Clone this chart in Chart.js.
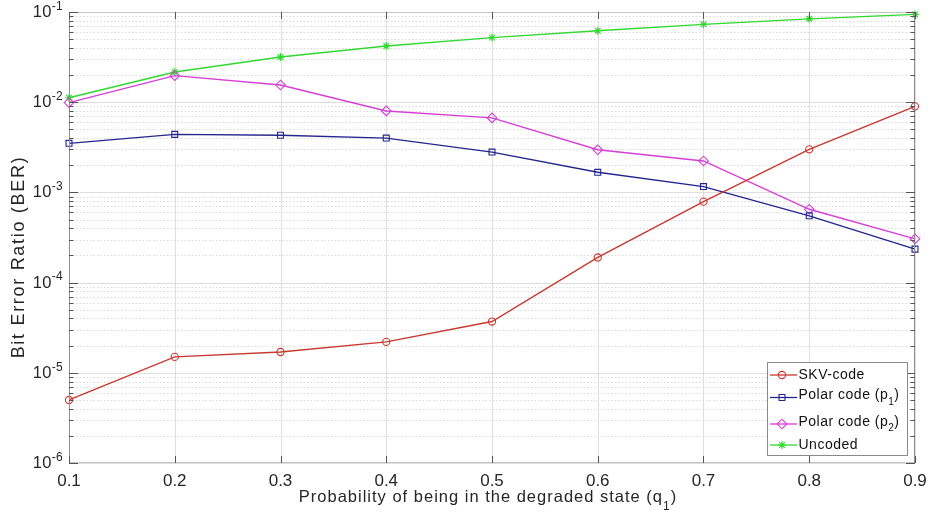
<!DOCTYPE html>
<html>
<head>
<meta charset="utf-8">
<title>BER vs degraded state probability</title>
<script src="https://cdn.jsdelivr.net/npm/chart.js@4/dist/chart.umd.min.js"></script>
<style>
    html, body { margin: 0; padding: 0; background: #fff; }
    #berChart { display: block; }
</style>
</head>
<body>
<canvas id="berChart" width="931" height="523"></canvas>
<script>
const qValues = [0.1, 0.2, 0.3, 0.4, 0.5, 0.6, 0.7, 0.8, 0.9];

const skvCode  = [5.0e-6, 1.5e-5, 1.7e-5, 2.2e-5, 3.7e-5, 1.9e-4, 7.9e-4, 3.0e-3, 9.0e-3];
const polarP1  = [3.5e-3, 4.4e-3, 4.3e-3, 4.0e-3, 2.8e-3, 1.67e-3, 1.16e-3, 5.5e-4, 2.35e-4];
const polarP2  = [9.9e-3, 1.97e-2, 1.55e-2, 8.0e-3, 6.7e-3, 2.97e-3, 2.23e-3, 6.5e-4, 3.05e-4];
const uncoded  = [1.12e-2, 2.16e-2, 3.17e-2, 4.2e-2, 5.2e-2, 6.2e-2, 7.3e-2, 8.4e-2, 9.4e-2];

const seriesNames = ["SKV-code", "Polar code (p_1)", "Polar code (p_2)", "Uncoded"];
const yDecades = [1e-6, 1e-5, 1e-4, 1e-3, 1e-2, 1e-1];
const yTickLabels = ["10^{-6}", "10^{-5}", "10^{-4}", "10^{-3}", "10^{-2}", "10^{-1}"];
const xTitle = "Probability of being in the degraded state (q_1)";
const yTitle = "Bit Error Ratio (BER)";

const FONT = '"Liberation Sans", Arial, Helvetica, sans-serif';
const TEXT = "#262626";

function font(size) {
    return size + "px " + FONT;
}

// splits "abc_1" / "10^{-5}" into plain, sub and sup pieces
function parseRich(str) {
    const parts = [];
    let i = 0, buf = "";
    while (i < str.length) {
        const c = str[i];
        if (c === "_" || c === "^") {
            if (buf) { parts.push({ t: buf, k: "n" }); buf = ""; }
            let s;
            if (str[i + 1] === "{") {
                const end = str.indexOf("}", i);
                s = str.slice(i + 2, end);
                i = end + 1;
            } else {
                s = str[i + 1];
                i += 2;
            }
            parts.push({ t: s, k: c === "_" ? "sub" : "sup" });
        } else {
            buf += c;
            i++;
        }
    }
    if (buf) parts.push({ t: buf, k: "n" });
    return parts;
}

// text with sub/superscripts; spacing = extra px between letters
function drawRich(ctx, str, x, y, size, align, subShift, spacing) {
    const parts = parseRich(str);
    const small = Math.round(size * 0.72);
    const sp = spacing || 0;
    ctx.letterSpacing = sp + "px";
    let total = 0;
    parts.forEach(p => {
        ctx.font = font(p.k === "n" ? size : small);
        p.w = ctx.measureText(p.t).width;
        total += p.w;
    });
    let cx = x;
    if (align === "right") cx = x - total;
    if (align === "center") cx = x - total / 2;
    ctx.textAlign = "left";
    ctx.textBaseline = "middle";
    parts.forEach(p => {
        let dy = 0;
        if (p.k === "sub") dy = size * subShift;
        if (p.k === "sup") dy = -size * 0.36;
        ctx.font = font(p.k === "n" ? size : small);
        ctx.fillText(p.t, cx, y + dy);
        cx += p.w;
    });
    ctx.letterSpacing = "0px";
}

const seriesStyles = [
    { color: "#c8382f", point: "circle", radius: 3.6 },
    { color: "#25258f", point: "rect", radius: 4.2 },
    { color: "#d63ed6", point: "rectRot", radius: 4.8 },
    { color: "#30d830", point: "star", radius: 4 }
];

const seriesData = [skvCode, polarP1, polarP2, uncoded];

const datasets = seriesData.map((vals, i) => ({
    label: seriesNames[i],
    data: vals.map((v, j) => ({ x: qValues[j], y: v })),
    borderColor: seriesStyles[i].color,
    backgroundColor: "rgba(0,0,0,0)",
    borderWidth: 1.4,
    pointStyle: seriesStyles[i].point,
    pointRadius: seriesStyles[i].radius,
    pointBorderWidth: 1.1,
    pointBorderColor: seriesStyles[i].color,
    pointBackgroundColor: "rgba(0,0,0,0)",
    tension: 0,
    clip: false
}));

// grid, inward ticks, box, labels and legend drawn in the MATLAB way
const matlabAxes = {
    id: "matlabAxes",
    beforeDatasetsDraw(chart) {
        const { ctx, chartArea: a, scales: { x, y } } = chart;
        ctx.save();
        ctx.lineWidth = 1;

        // minor y grid (dotted)
        ctx.strokeStyle = "#d9d9d9";
        ctx.setLineDash([1.5, 2]);
        yDecades.slice(0, -1).forEach(d => {
            for (let k = 2; k <= 9; k++) {
                const py = Math.round(y.getPixelForValue(k * d)) + 0.5;
                ctx.beginPath();
                ctx.moveTo(a.left, py);
                ctx.lineTo(a.right, py);
                ctx.stroke();
            }
        });
        ctx.setLineDash([]);

        // major y grid
        ctx.strokeStyle = "#dedede";
        yDecades.forEach(d => {
            const py = Math.round(y.getPixelForValue(d)) + 0.5;
            ctx.beginPath();
            ctx.moveTo(a.left, py);
            ctx.lineTo(a.right, py);
            ctx.stroke();
        });

        // x grid
        qValues.forEach(q => {
            const px = Math.round(x.getPixelForValue(q)) + 0.5;
            ctx.beginPath();
            ctx.moveTo(px, a.top);
            ctx.lineTo(px, a.bottom);
            ctx.stroke();
        });
        ctx.restore();
    },
    afterDraw(chart) {
        const { ctx, chartArea: a, scales: { x, y } } = chart;
        ctx.save();
        ctx.lineWidth = 1;

        // box
        ctx.strokeStyle = "#c4c4c4";
        ctx.beginPath();
        ctx.moveTo(a.left, a.top + 0.5);
        ctx.lineTo(a.right, a.top + 0.5);
        ctx.moveTo(a.left, a.bottom - 0.5);
        ctx.lineTo(a.right, a.bottom - 0.5);
        ctx.stroke();
        ctx.strokeStyle = "#8f8f8f";
        ctx.beginPath();
        ctx.moveTo(Math.round(a.left) + 0.5, a.top);
        ctx.lineTo(Math.round(a.left) + 0.5, a.bottom);
        ctx.moveTo(Math.round(a.right) - 0.5, a.top);
        ctx.lineTo(Math.round(a.right) - 0.5, a.bottom);
        ctx.stroke();

        // inward ticks
        ctx.strokeStyle = "#555555";
        ctx.beginPath();
        qValues.forEach(q => {
            const px = Math.round(x.getPixelForValue(q)) + 0.5;
            ctx.moveTo(px, a.bottom);
            ctx.lineTo(px, a.bottom - 7);
            ctx.moveTo(px, a.top);
            ctx.lineTo(px, a.top + 7);
        });
        yDecades.forEach((d, i) => {
            const py = Math.round(y.getPixelForValue(d)) + 0.5;
            ctx.moveTo(a.left, py);
            ctx.lineTo(a.left + 9, py);
            ctx.moveTo(a.right, py);
            ctx.lineTo(a.right - 9, py);
            if (i < yDecades.length - 1) {
                for (let k = 2; k <= 9; k++) {
                    const pm = Math.round(y.getPixelForValue(k * d)) + 0.5;
                    ctx.moveTo(a.left, pm);
                    ctx.lineTo(a.left + 4.5, pm);
                    ctx.moveTo(a.right, pm);
                    ctx.lineTo(a.right - 4.5, pm);
                }
            }
        });
        ctx.stroke();

        // y tick labels 10^n
        ctx.fillStyle = TEXT;
        yDecades.forEach((d, i) => {
            drawRich(ctx, yTickLabels[i], a.left - 6, y.getPixelForValue(d) + 0.5, 16.5, "right", 0.4, 0.3);
        });

        // axis titles
        drawRich(ctx, xTitle, 488, 497, 16.5, "center", 0.58, 1.0);
        ctx.save();
        ctx.translate(19, 257);
        ctx.rotate(-Math.PI / 2);
        drawRich(ctx, yTitle, 0, 0, 18, "center", 0.4, 1.7);
        ctx.restore();

        // legend
        const box = { l: 767.5, t: 362.5, r: 907.5, b: 455.5 };
        ctx.fillStyle = "#ffffff";
        ctx.fillRect(box.l, box.t, box.r - box.l, box.b - box.t);
        ctx.strokeStyle = "#8a8a8a";
        ctx.strokeRect(box.l, box.t, box.r - box.l, box.b - box.t);
        const rowsY = [375, 397.5, 424, 445];
        chart.data.datasets.forEach((ds, i) => {
            const ly = rowsY[i];
            ctx.strokeStyle = ds.borderColor;
            ctx.lineWidth = 1.3;
            ctx.beginPath();
            ctx.moveTo(770, ly);
            ctx.lineTo(797, ly);
            ctx.stroke();
            ctx.lineWidth = 1.1;
            ctx.fillStyle = "rgba(0,0,0,0)";
            Chart.helpers.drawPoint(ctx, {
                pointStyle: ds.pointStyle,
                radius: ds.pointRadius,
                rotation: 0,
                borderWidth: 1.1
            }, 782, ly);
            ctx.fillStyle = "#111111";
            const hasSub = ds.label.indexOf("_") >= 0;
            drawRich(ctx, ds.label, 798.5, ly - (hasSub ? 2 : 0), 14, "left", 0.45, 0.5);
        });
        ctx.restore();
    }
};

const ctx = document.getElementById("berChart");

const berChart = new Chart(ctx, {
    type: "line",
    data: { datasets: datasets },
    options: {
        responsive: false,
        maintainAspectRatio: false,
        animation: false,
        devicePixelRatio: 1,
        layout: { padding: { top: 12, right: 16, left: 0, bottom: 0 } },
        plugins: {
            legend: { display: false },
            tooltip: { enabled: false }
        },
        scales: {
            x: {
                type: "linear",
                min: 0.1,
                max: 0.9,
                ticks: {
                    stepSize: 0.1,
                    color: TEXT,
                    font: { family: FONT, size: 17 },
                    padding: 8,
                    maxRotation: 0,
                    autoSkip: false,
                    callback: v => v.toFixed(1)
                },
                grid: { display: false, drawTicks: false },
                border: { display: false },
                afterFit: s => {
                    s.height = 60;
                    s.paddingLeft = 0;
                    s.paddingRight = 0;
                }
            },
            y: {
                type: "logarithmic",
                min: 1e-6,
                max: 1e-1,
                ticks: { display: false },
                grid: { display: false, drawTicks: false },
                border: { display: false },
                afterFit: s => { s.width = 69; }
            }
        }
    },
    plugins: [matlabAxes]
});
</script>
</body>
</html>
